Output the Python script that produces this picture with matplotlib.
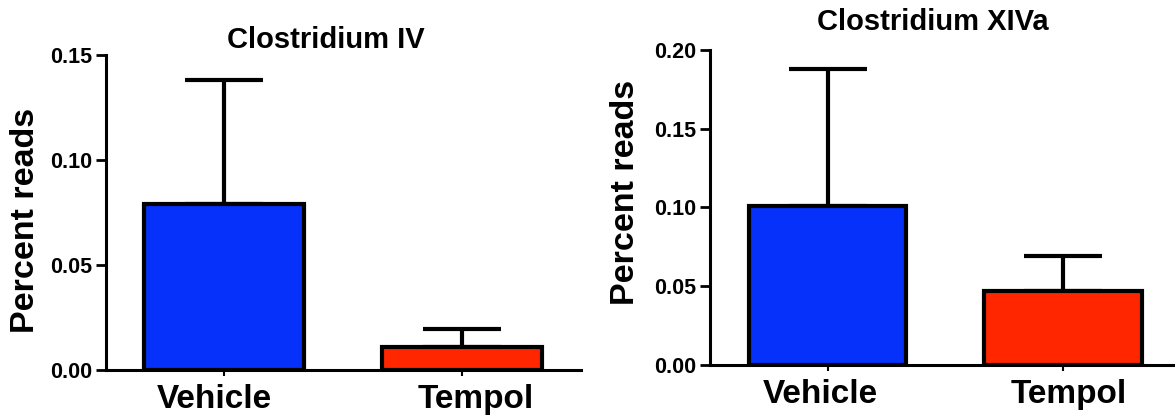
import numpy as np
import matplotlib
matplotlib.use("Agg")
import matplotlib.pyplot as plt

plt.rcParams['font.family'] = ['Liberation Sans', 'DejaVu Sans']
plt.rcParams['font.weight'] = 'bold'

groups = ["Vehicle", "Tempol"]
bar_colors = ["#0531FA", "#FF2600"]

# Clostridium IV
iv_mean = [0.079, 0.011]
iv_err = [0.059, 0.0085]

# Clostridium XIVa
xiva_mean = [0.101, 0.047]
xiva_err = [0.087, 0.022]

panels = [
    # title, means, errors, ymax, yticks, axes rect, xlim, title pos, ylabel pos, label shifts (px)
    ("Clostridium IV", iv_mean, iv_err, 0.15, [0.0, 0.05, 0.10, 0.15],
     [0.0902, 0.1169, 0.4043, 0.7518], (-0.496, 1.5), (0.462, 1.048), (26, 220), (-10, 14)),
    ("Clostridium XIVa", xiva_mean, xiva_err, 0.20, [0.0, 0.05, 0.10, 0.15, 0.20],
     [0.6043, 0.1289, 0.3966, 0.7518], (-0.499, 1.48), (0.479, 1.089), (625, 192), (-7, 6)),
]

W, H = 1175, 419
fig = plt.figure(figsize=(W / 100, H / 100), dpi=100)

for title, means, errs, ymax, yticks, rect, xlim, tpos, lpos, shifts in panels:
    ax = fig.add_axes(rect)
    x = np.arange(len(groups))
    ax.bar(x, means, width=0.67, color=bar_colors, edgecolor="black", linewidth=3, zorder=2)
    ax.errorbar(x, means, yerr=[np.zeros(len(errs)), errs], fmt="none", ecolor="black",
                elinewidth=3, capsize=28, capthick=3, zorder=1)
    ax.set_xlim(*xlim)
    ax.set_ylim(0, ymax)
    ax.set_yticks(yticks)
    ax.set_yticklabels([f"{t:.2f}" for t in yticks], fontsize=15.5, fontweight="bold")
    ax.set_xticks(x)
    ax.set_xticklabels([])
    # group names sit a little off the tick marks in the original
    for xi, name, dx in zip(x, groups, shifts):
        ax.annotate(name, xy=(xi, 0), xycoords=("data", "axes fraction"),
                    xytext=(dx, -14), textcoords="offset pixels", ha="center", va="top",
                    fontsize=24, fontweight="bold", annotation_clip=False)
    for s in ["top", "right"]:
        ax.spines[s].set_visible(False)
    for s in ["left", "bottom"]:
        ax.spines[s].set_linewidth(2.2)
    ax.spines["left"].set_bounds(0, ymax)
    ax.tick_params(axis="y", length=7, width=2, pad=3)
    ax.tick_params(axis="x", length=4, width=1.5)
    ax.text(tpos[0], tpos[1], title, transform=ax.transAxes, ha="center", va="center",
            fontsize=21, fontweight="bold")
    fig.text(lpos[0] / W, 1 - lpos[1] / H, "Percent reads", rotation=90, ha="center",
             va="center", fontsize=24.5, fontweight="bold")

fig.savefig("out.png", dpi=100)
